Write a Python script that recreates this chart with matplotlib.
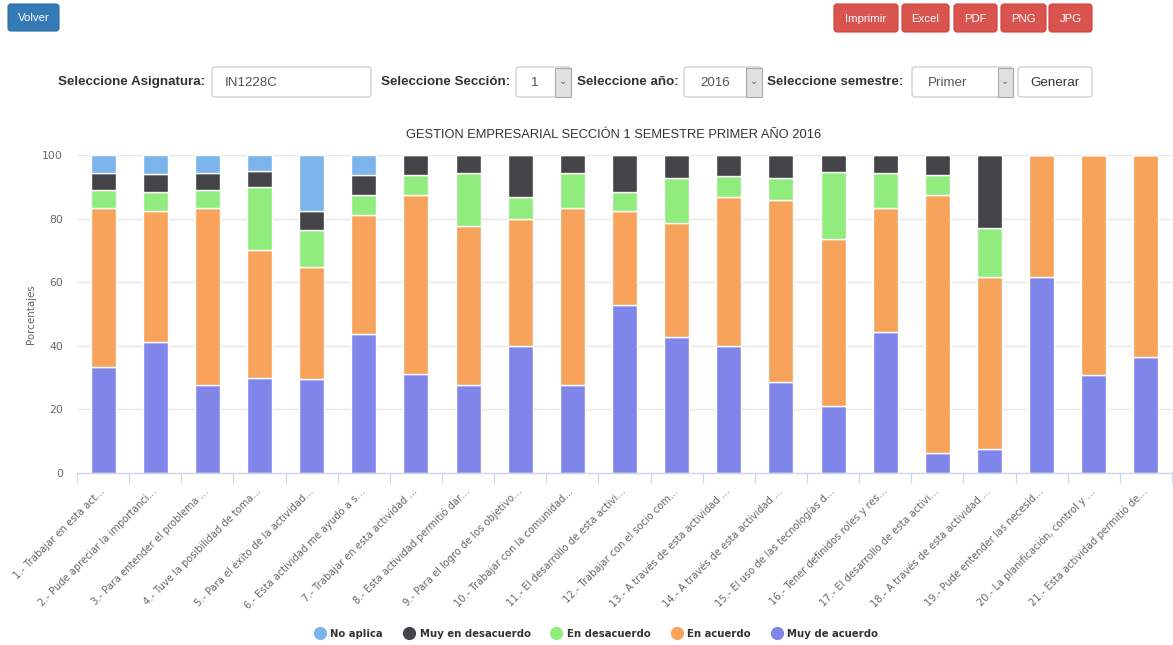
import matplotlib
matplotlib.use("Agg")
import matplotlib.pyplot as plt
from matplotlib.patches import FancyBboxPatch, Rectangle
from matplotlib.lines import Line2D
import numpy as np

# ---------------- data ----------------
categories = [
    "1.- Trabajar en esta act…",
    "2.- Pude apreciar la importanci…",
    "3.- Para entender el problema …",
    "4.- Tuve la posibilidad de toma…",
    "5.- Para el éxito de la actividad…",
    "6.- Esta actividad me ayudó a s…",
    "7.- Trabajar en esta actividad …",
    "8.- Esta actividad permitió dar…",
    "9.- Para el logro de los objetivo…",
    "10.- Trabajar con la comunidad…",
    "11.- El desarrollo de esta activi…",
    "12.- Trabajar con el socio com…",
    "13.- A través de esta actividad …",
    "14.- A través de esta actividad …",
    "15.- El uso de las tecnologías d…",
    "16.- Tener definidos roles y res…",
    "17.- El desarrollo de esta activi…",
    "18.- A través de esta actividad …",
    "19.- Pude entender las necesid…",
    "20.- La planificación, control y …",
    "21.- Esta actividad permitió de…",
]
muy_de_acuerdo = [33.33, 41.18, 27.78, 30.0, 29.41, 43.75, 31.25, 27.78, 40.0, 27.78, 52.94,
                  42.86, 40.0, 28.57, 21.05, 44.44, 6.25, 7.69, 61.54, 30.77, 36.36]
en_acuerdo = [50.0, 41.18, 55.56, 40.0, 35.29, 37.5, 56.25, 50.0, 40.0, 55.56, 29.41,
              35.71, 46.67, 57.14, 52.63, 38.89, 81.25, 53.85, 38.46, 69.23, 63.64]
en_desacuerdo = [5.56, 5.88, 5.56, 20.0, 11.76, 6.25, 6.25, 16.67, 6.67, 11.11, 5.88,
                 14.29, 6.67, 7.14, 21.05, 11.11, 6.25, 15.38, 0, 0, 0]
muy_en_desacuerdo = [5.56, 5.88, 5.56, 5.0, 5.88, 6.25, 6.25, 5.56, 13.33, 5.56, 11.76,
                     7.14, 6.67, 7.14, 5.26, 5.56, 6.25, 23.08, 0, 0, 0]
no_aplica = [5.56, 5.88, 5.56, 5.0, 17.65, 6.25, 0, 0, 0, 0, 0,
             0, 0, 0, 0, 0, 0, 0, 0, 0, 0]

series_names = ["No aplica", "Muy en desacuerdo", "En desacuerdo", "En acuerdo", "Muy de acuerdo"]
series_values = [no_aplica, muy_en_desacuerdo, en_desacuerdo, en_acuerdo, muy_de_acuerdo]
series_colors = ["#7cb5ec", "#434348", "#90ed7d", "#f7a35c", "#8085e9"]

title = "GESTION EMPRESARIAL SECCIÓN 1 SEMESTRE PRIMER AÑO 2016"
y_ticks = [0, 20, 40, 60, 80, 100]

# ---------------- figure ----------------
W, H = 1173, 645
fig = plt.figure(figsize=(W / 100, H / 100), dpi=100)
fig.patch.set_facecolor("white")

# overlay axes in pixel coordinates for the web UI
ui = fig.add_axes([0, 0, 1, 1])
ui.set_xlim(0, W)
ui.set_ylim(H, 0)
ui.axis("off")

UI_FONT = "Liberation Sans"


def button(x0, x1, y0, y1, face, edge, text, tcolor, fs=8.2):
    p = FancyBboxPatch((x0 + 3, y0 + 3), (x1 - x0) - 6, (y1 - y0) - 6,
                       boxstyle="round,pad=3", facecolor=face, edgecolor=edge, lw=0.8)
    ui.add_patch(p)
    ui.text((x0 + x1) / 2, (y0 + y1) / 2 + 0.5, text, ha="center", va="center",
            color=tcolor, fontsize=fs, family=UI_FONT)


button(8, 59, 4, 31, "#337ab7", "#2e6da4", "Volver", "white")
for (a, b, t) in [(834, 898, "Imprimir"), (902, 949, "Excel"), (954, 997, "PDF"),
                  (1001, 1046, "PNG"), (1049, 1092, "JPG")]:
    button(a, b, 4, 32, "#d9534f", "#d43f3a", t, "white")


def label(x, text):
    ui.text(x, 82, text, ha="left", va="center", color="#333333", fontsize=9.6,
            family=UI_FONT, fontweight="bold")


def box(x0, x1, text, tx, arrow=None):
    p = FancyBboxPatch((x0 + 3, 67 + 3), (x1 - x0) - 6, 30 - 6,
                       boxstyle="round,pad=3", facecolor="white", edgecolor="#cccccc", lw=0.9)
    ui.add_patch(p)
    if arrow is not None:
        ui.add_patch(Rectangle((arrow, 67.5), x1 - arrow - 0.5, 29, facecolor="#e1e1e1",
                               edgecolor="#a9a9a9", lw=0.8))
        ui.text((arrow + x1) / 2, 81, "⌄", ha="center", va="center", color="#666666",
                fontsize=7, family="DejaVu Sans")
    ui.text(tx, 82.5, text, ha="left", va="center", color="#555555", fontsize=9.6,
            family=UI_FONT)


label(58, "Seleccione Asignatura:")
box(212, 371, "IN1228C", 225)
label(381, "Seleccione Sección:")
box(516, 571, "1", 531, arrow=555)
label(577, "Seleccione año:")
box(684, 762, "2016", 700, arrow=746)
label(767, "Seleccione semestre:")
box(912, 1013, "Primer", 928, arrow=998)
p = FancyBboxPatch((1018 + 3, 67 + 3), 74 - 6, 30 - 6, boxstyle="round,pad=3",
                   facecolor="white", edgecolor="#cccccc", lw=0.9)
ui.add_patch(p)
ui.text(1055, 82.5, "Generar", ha="center", va="center", color="#333333", fontsize=9.6,
        family=UI_FONT)

# ---------------- chart ----------------
left_px, right_px, top_px, bot_px = 77, 1172, 155, 473
ax = fig.add_axes([left_px / W, (H - bot_px) / H, (right_px - left_px) / W,
                   (bot_px - top_px) / H])
ax.set_facecolor("none")

n = len(categories)
x = np.arange(n)
bottom = np.zeros(n)
stack_order = list(range(len(series_names)))[::-1]  # bottom: Muy de acuerdo
for i in stack_order:
    vals = np.array(series_values[i], dtype=float)
    ax.bar(x, vals, bottom=bottom, width=0.48, color=series_colors[i],
           edgecolor="white", linewidth=1.0, zorder=3)
    bottom += vals

ax.set_xlim(-0.5, n - 0.5)
ax.set_ylim(0, 100)
ax.set_yticks(y_ticks)
ax.set_yticklabels([str(v) for v in y_ticks], fontsize=7.8, color="#666666",
                   family="DejaVu Sans")
ax.tick_params(axis="y", length=0, pad=10)
ax.yaxis.grid(True, color="#e6e6e6", linewidth=1.0, zorder=0)
ax.set_axisbelow(True)

# category boundary ticks (major) and centred labels (minor)
ax.set_xticks(np.arange(n + 1) - 0.5)
ax.set_xticklabels([])
ax.tick_params(axis="x", which="major", length=7.5, width=0.9, color="#ccd6eb",
               direction="out")
ax.set_xticks(x, minor=True)
ax.set_xticklabels(categories, minor=True, rotation=45, ha="right", va="center",
                   rotation_mode="anchor", fontsize=7.1, color="#666666",
                   family="DejaVu Sans")
ax.tick_params(axis="x", which="minor", length=0, pad=12)

for s in ["top", "right", "left"]:
    ax.spines[s].set_visible(False)
ax.spines["bottom"].set_color("#ccd6eb")
ax.spines["bottom"].set_linewidth(1.0)
ax.spines["bottom"].set_zorder(4)

ax.set_ylabel("Porcentajes", fontsize=7.4, color="#666666", family="DejaVu Sans")
ax.yaxis.set_label_coords(-(left_px - 36) / (right_px - left_px), 0.5)

fig.text(614 / W, 1 - 135 / H, title, ha="center", va="center", fontsize=9.3,
         color="#333333", family=UI_FONT)

handles = [Line2D([0], [0], marker="o", linestyle="none", markersize=8.5,
                  markerfacecolor=c, markeredgecolor=c) for c in series_colors]
leg = fig.legend(handles, series_names, loc="center", bbox_to_anchor=(594 / W, 1 - 634 / H),
                 ncol=5, frameon=False, handletextpad=0.05, columnspacing=1.55,
                 prop={"family": "DejaVu Sans", "weight": "bold", "size": 7.3})
for t in leg.get_texts():
    t.set_color("#333333")

fig.savefig("out.png", dpi=100, facecolor="white")
